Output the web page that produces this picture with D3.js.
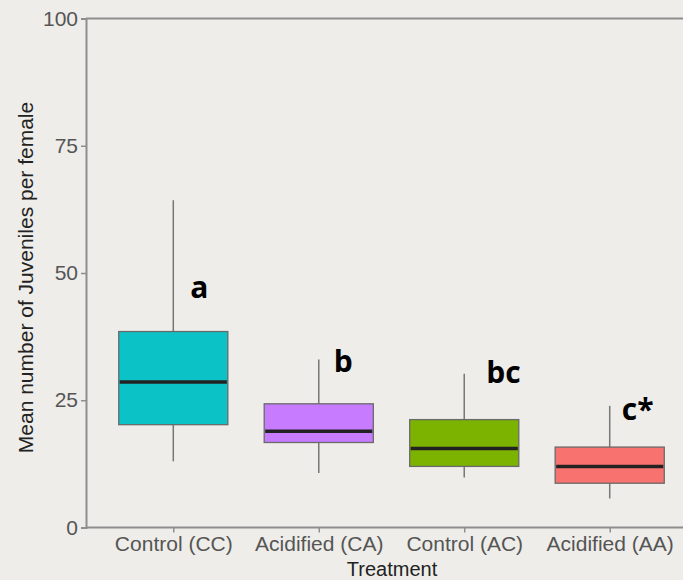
<!DOCTYPE html>
<html>
<head>
<meta charset="utf-8">
<script src="https://cdn.jsdelivr.net/npm/d3@7"></script>
<style>
  html, body { margin: 0; padding: 0; background: #EEEDE9; }
  svg { display: block; }
</style>
</head>
<body>
<svg id="chart" width="683" height="580"></svg>
<script>
// ---- data ----
const categories = ["Control (CC)", "Acidified (CA)", "Control (AC)", "Acidified (AA)"];
const whiskerLow  = [13.0, 10.7, 9.8, 5.7];
const q1          = [20.2, 16.7, 12.0, 8.7];
const medians     = [28.6, 18.9, 15.5, 12.0];
const q3          = [38.5, 24.3, 21.2, 15.8];
const whiskerHigh = [64.3, 33.0, 30.2, 23.9];
const colors      = ["#0BC3C6", "#C77CFF", "#7CB200", "#F87370"];
const groupLetters = ["a", "b", "bc", "c*"];
const letterY      = [45.0, 30.6, 28.4, 21.1];
const yTicks = [0, 25, 50, 75, 100];

// ---- layout ----
const svg = d3.select("#chart");
const mLeft = 86, mRight = 697, mTop = 18.5, mBottom = 527.5;

const x = d3.scalePoint().domain(categories).range([mLeft, mRight]).padding(0.6);
const y = d3.scaleLinear().domain([0, 100]).range([mBottom, mTop]);
const boxW = x.step() * 0.75;

const data = categories.map((c, i) => ({
  c, lo: whiskerLow[i], q1: q1[i], med: medians[i], q3: q3[i], hi: whiskerHigh[i],
  color: colors[i], letter: groupLetters[i], ly: letterY[i]
}));

// top frame line
svg.append("line")
  .attr("x1", mLeft).attr("x2", 683)
  .attr("y1", y(100)).attr("y2", y(100))
  .attr("stroke", "#8E8E8E").attr("stroke-width", 2);

// y axis
const yAxis = svg.append("g")
  .attr("transform", `translate(${mLeft},0)`)
  .call(d3.axisLeft(y).tickValues(yTicks).tickSize(5).tickPadding(3));
yAxis.select(".domain").attr("stroke", "#8E8E8E").attr("stroke-width", 2);
yAxis.selectAll(".tick line").attr("stroke", "#8E8E8E").attr("stroke-width", 1.5);
yAxis.selectAll(".tick text")
  .attr("font-family", "Liberation Sans, Arial, sans-serif")
  .attr("font-size", 21).attr("fill", "#555");

// x axis
const xAxis = svg.append("g")
  .attr("transform", `translate(0,${mBottom})`)
  .call(d3.axisBottom(x).tickSize(5).tickPadding(4));
xAxis.select(".domain").attr("stroke", "#8E8E8E").attr("stroke-width", 2)
  .attr("d", `M${mLeft},0H${mRight}`);
xAxis.selectAll(".tick line").attr("stroke", "#8E8E8E").attr("stroke-width", 1.5);
xAxis.selectAll(".tick text")
  .attr("font-family", "Liberation Sans, Arial, sans-serif")
  .attr("font-size", 21).attr("fill", "#555");

// boxes
const g = svg.append("g");
const box = g.selectAll("g.box").data(data).join("g").attr("class", "box");

box.append("line")
  .attr("x1", d => x(d.c)).attr("x2", d => x(d.c))
  .attr("y1", d => y(d.hi)).attr("y2", d => y(d.q3))
  .attr("stroke", "#777").attr("stroke-width", 1.5);
box.append("line")
  .attr("x1", d => x(d.c)).attr("x2", d => x(d.c))
  .attr("y1", d => y(d.q1)).attr("y2", d => y(d.lo))
  .attr("stroke", "#777").attr("stroke-width", 1.5);
box.append("rect")
  .attr("x", d => x(d.c) - boxW / 2).attr("width", boxW)
  .attr("y", d => y(d.q3)).attr("height", d => y(d.q1) - y(d.q3))
  .attr("fill", d => d.color)
  .attr("stroke", "#6A6A6A").attr("stroke-width", 1.3);
box.append("line")
  .attr("x1", d => x(d.c) - boxW / 2 + 1).attr("x2", d => x(d.c) + boxW / 2 - 1)
  .attr("y1", d => y(d.med)).attr("y2", d => y(d.med))
  .attr("stroke", "#222").attr("stroke-width", 3.5);

// group letters
const letterDx = [17, 15, 22, 12];
box.append("text")
  .attr("x", (d, i) => x(d.c) + letterDx[i])
  .attr("y", d => y(d.ly))
  .attr("font-family", "Open Sans, sans-serif")
  .attr("font-weight", "bold")
  .attr("font-size", 30)
  .attr("fill", "#000")
  .text(d => d.letter);

// axis titles
svg.append("text")
  .attr("x", 392).attr("y", 576)
  .attr("text-anchor", "middle")
  .attr("font-family", "Liberation Sans, Arial, sans-serif")
  .attr("font-size", 20).attr("fill", "#222")
  .text("Treatment");

svg.append("text")
  .attr("transform", "translate(33,277.5) rotate(-90)")
  .attr("text-anchor", "middle")
  .attr("font-family", "Liberation Sans, Arial, sans-serif")
  .attr("font-size", 21).attr("fill", "#222")
  .text("Mean number of Juveniles per female");
</script>
</body>
</html>
